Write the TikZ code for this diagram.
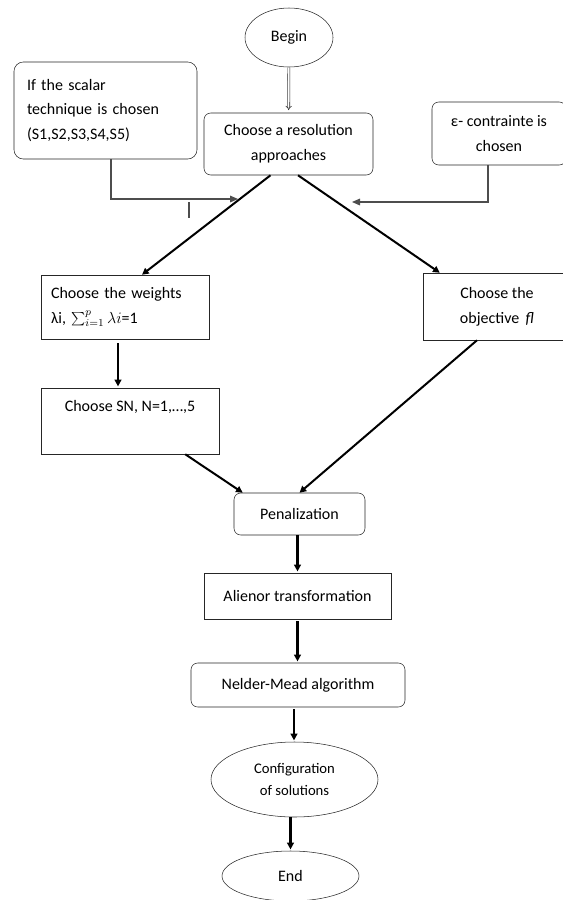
\documentclass[tikz,border=0pt]{standalone}
\usepackage{fontspec}
\setmainfont{Carlito}
\usepackage{xcolor}
\definecolor{cLine}{HTML}{262626}
\definecolor{cGray}{HTML}{4D4D4D}
\usepackage{tikz}
\usetikzlibrary{positioning,arrows.meta,shapes.geometric,calc}
\tikzset{
  node-box/.style={draw=cLine,thin,rectangle,align=center,inner sep=0pt,
    font=\fontsize{12}{18.5}\selectfont},
  node-round/.style={node-box,rounded corners=5pt},
  node-oval/.style={draw=cLine,thin,ellipse,align=center,inner sep=0pt,
    font=\fontsize{12}{18.5}\selectfont},
  arrow/.style={-{Triangle[length=5pt,width=5pt]},line width=1.5pt,draw=black},
  arrow-bold/.style={arrow,line width=2.2pt,shorten >=1pt},
  arrow-double/.style={-{Implies},double,double distance=1.2pt,thin,draw=cLine},
  arrow-side/.style={-{Triangle[length=6pt,width=5pt]},line width=0.8pt,draw=cGray},
}

\begin{document}
\begin{tikzpicture}[x=0.75pt,y=-0.75pt]
  \useasboundingbox (0,0) rectangle (563,900);

  \node[node-oval,minimum width=66pt,minimum height=44.25pt] (begin) at (289,37.5) {Begin};
  \node[node-round,minimum width=126.75pt,minimum height=46.5pt] (approach) at (288.5,144)
    {Choose a resolution\\approaches};
  \node[node-round,rounded corners=7pt,minimum width=137.25pt,minimum height=72.75pt,
    text width=117.75pt,align=left] (scalar) at (105.5,110.5)
    {If the scalar\\technique is chosen\\(S1,S2,S3,S4,S5)};
  \node[node-round,minimum width=100.5pt,minimum height=47.25pt] (eps) at (499,133.5)
    {ε- contrainte is\\chosen};

  \node[node-box,minimum width=126pt,minimum height=48pt,text width=111pt,align=left]
    (weights) at (125,307)
    {Choose the weights\\λi, $\sum_{i=1}^{p}\lambda i$=1};
  \node[node-box,minimum width=111pt,minimum height=50.25pt] (objective) at (497,306.5)
    {Choose the\\objective \,\textit{fl}};
  \node[node-box,minimum width=133.5pt,minimum height=49.5pt] (sn) at (130,421)
    {Choose SN, N=1,…,5\\[4pt]};

  \node[node-round,minimum width=98.25pt,minimum height=31.5pt] (pen) at (299.5,514)
    {Penalization};
  \node[node-box,minimum width=140.25pt,minimum height=34.5pt] (alienor) at (297.5,596)
    {Alienor transformation};
  \node[node-round,minimum width=160.5pt,minimum height=33pt] (nelder) at (298,685)
    {Nelder-Mead algorithm};
  \node[node-oval,font=\fontsize{11}{16.5}\selectfont,minimum width=125.25pt,
    minimum height=56.25pt] (config) at (294.5,779.5)
    {Configuration\\of solutions};
  \node[node-oval,minimum width=102.75pt,minimum height=37.5pt] (end) at (290.5,876) {End};

  \coordinate (scalar-in) at (238,199);
  \coordinate (eps-in) at (352,202);
  \coordinate (tick-top) at (189,202);
  \coordinate (tick-bot) at (189,218);

  \draw[arrow-double,shorten >=2pt] (begin) -- (approach);
  \draw[arrow-side] ($(scalar.south)+(5.5,0)$) |- (scalar-in);
  \draw[arrow-side] ($(eps.south)+(-11,0)$) |- (eps-in);
  \draw[draw=cGray,line width=0.8pt] (tick-top) -- (tick-bot);

  \draw[arrow] ($(approach.south)+(-18,0)$) -- ($(weights.north)+(17,0)$);
  \draw[arrow] ($(approach.south)+(9.5,0)$) -- ($(objective.north west)+(17,0)$);
  \draw[arrow-bold] ($(weights.south)+(-7,4)$) -- ($(sn.north)+(-12,0)$);
  \draw[arrow] ($(sn.south east)+(-34,0)$) -- ($(pen.north west)+(9,0)$);
  \draw[arrow] ($(objective.south)+(-20,0)$) -- (pen.north);
  \draw[arrow-bold] (pen.south -| alienor.north) -- (alienor.north);
  \draw[arrow-bold] ($(alienor.south)+(0,2)$) -- (alienor.south |- nelder.north);
  \draw[arrow-bold] ($(nelder.south)+(-4,2)$) -- ($(nelder.south |- config.north)+(-4,0)$);
  \draw[arrow-bold] (end.north |- config.south) -- (end.north);
\end{tikzpicture}
\end{document}
